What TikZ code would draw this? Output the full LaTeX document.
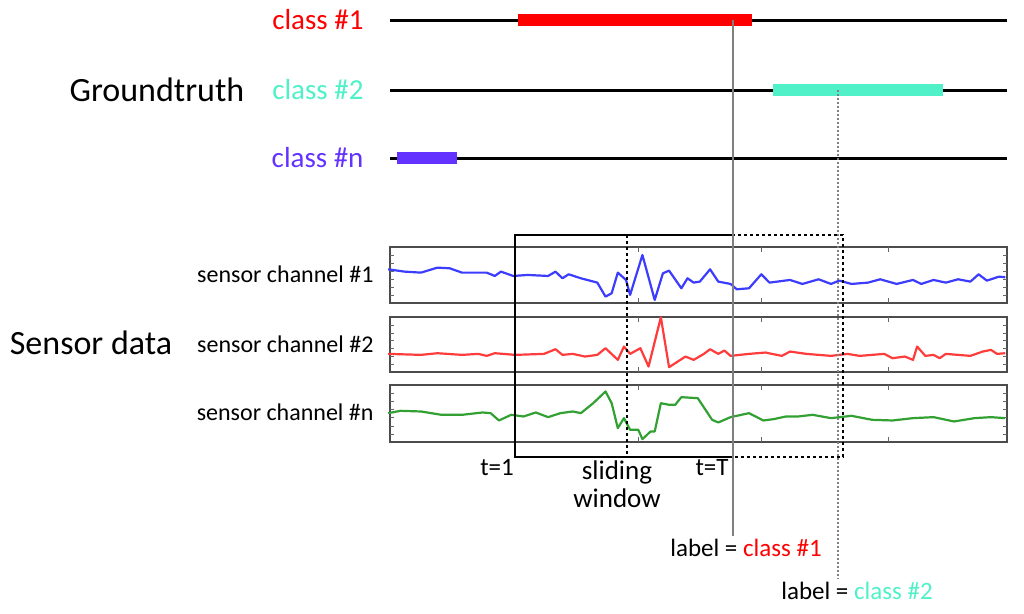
\documentclass[tikz,border=0pt]{standalone}
\usepackage{fontspec}
\setmainfont{Carlito}
\usetikzlibrary{positioning}
\definecolor{cone}{RGB}{255,0,0}
\definecolor{ctwo}{RGB}{80,240,200}
\definecolor{cn}{RGB}{100,50,255}
\definecolor{sblue}{RGB}{60,60,255}
\definecolor{sred}{RGB}{255,60,60}
\definecolor{sgreen}{RGB}{50,160,50}
\tikzset{
  track/.style = {line width=3pt, black},
  bar/.style = {line width=12pt},
  cls/.style = {anchor=east, font=\fontsize{29}{32}\selectfont},
  chan/.style = {anchor=east, font=\fontsize{24}{28}\selectfont},
  big/.style = {font=\fontsize{34}{38}\selectfont},
  small/.style = {font=\fontsize{25}{29}\selectfont},
  panel/.style = {draw=black!70, line width=1.5pt},
  sig/.style = {line width=2.2pt, line join=round}
}
\begin{document}
\begin{tikzpicture}[x=1pt, y=-1pt]
  \useasboundingbox (0,0) rectangle (1024,613);

  % groundtruth tracks
  \draw[track] (390,20) -- (1007,20);
  \draw[track] (390,90) -- (1007,90);
  \draw[track] (390,158) -- (1007,158);
  \draw[bar, cone] (518,20) -- (752,20);
  \draw[bar, ctwo] (773,90) -- (943,90);
  \draw[bar, cn] (397,158) -- (457,158);
  \node[cls, text=cone] (c1) at (367,20) {class \#1};
  \node[cls, text=ctwo] (c2) at (367,90) {class \#2};
  \node[cls, text=cn] (cn) at (367,158) {class \#n};
  \node[big] (gt) at (157,90) {Groundtruth};

  % sensor panels
  \foreach \yt/\yb in {247/303, 317/372, 385/442} {
    \draw[panel] (390,\yt) rectangle (1007,\yb);
    \foreach \x in {515,638,761,888}
      \draw[black!60] (\x,\yt) -- ++(0,5) (\x,\yb) -- ++(0,-5);
    \foreach \k in {1,...,6} {
      \draw[black!60] (390,{\yt+\k*(\yb-\yt)/7}) -- ++(4,0);
      \draw[black!60] (1007,{\yt+\k*(\yb-\yt)/7}) -- ++(-4,0);
    }
  }
  \node[chan] (s1) at (377,274) {sensor channel \#1};
  \node[chan] (s2) at (377,344) {sensor channel \#2};
  \node[chan] (sn) at (377,412) {sensor channel \#n};
  \node[big] (sd) at (91,343) {Sensor data};

  \begin{scope}[shift={(380,230)}, xscale=0.41, yscale=0.333]
    \draw[sig, sblue] (20,118)--(60,125)--(100,128)--(140,113)--(170,115)--(200,128)--(260,128)--(280,138)--(295,125)--(325,138)--(360,135)--(410,138)--(428,125)--(445,145)--(460,133)--(490,145)--(530,158)--(550,200)--(565,190)--(580,128)--(600,150)--(610,195)--(640,75)--(670,210)--(690,130)--(705,122)--(735,175)--(750,145)--(765,158)--(780,155)--(805,118)--(825,155)--(855,162)--(870,178)--(900,175)--(930,133)--(950,158)--(1000,150)--(1030,162)--(1070,148)--(1100,162)--(1120,152)--(1150,162)--(1190,158)--(1220,148)--(1260,162)--(1300,150)--(1320,162)--(1350,150)--(1380,158)--(1410,148)--(1440,155)--(1460,133)--(1480,152)--(1510,140)--(1525,142);
    \draw[sig, sred] (20,372)--(100,375)--(140,370)--(200,375)--(240,372)--(260,378)--(280,370)--(300,372)--(330,375)--(400,372)--(428,358)--(445,375)--(470,372)--(500,380)--(530,375)--(550,355)--(580,390)--(595,350)--(610,372)--(635,355)--(655,410)--(685,262)--(705,412)--(730,392)--(745,380)--(765,390)--(790,372)--(805,358)--(825,372)--(840,362)--(855,378)--(900,372)--(940,368)--(980,378)--(1000,365)--(1040,372)--(1100,378)--(1140,372)--(1170,378)--(1200,375)--(1230,372)--(1250,385)--(1280,380)--(1300,390)--(1310,350)--(1330,378)--(1350,375)--(1365,385)--(1380,372)--(1440,378)--(1470,365)--(1490,360)--(1505,372)--(1525,370);
    \draw[sig, sgreen] (20,550)--(50,543)--(100,545)--(150,555)--(200,555)--(250,548)--(270,550)--(290,572)--(320,555)--(350,560)--(380,548)--(410,562)--(440,550)--(470,545)--(490,550)--(520,520)--(550,485)--(565,520)--(580,595)--(595,565)--(610,600)--(630,600)--(640,628)--(660,605)--(670,605)--(685,520)--(705,525)--(720,525)--(735,502)--(775,505)--(810,570)--(825,578)--(855,562)--(900,550)--(935,572)--(960,568)--(990,560)--(1020,560)--(1055,555)--(1100,565)--(1150,558)--(1200,570)--(1250,572)--(1300,565)--(1350,562)--(1400,575)--(1450,565)--(1490,562)--(1525,565);
  \end{scope}

  % windows
  \draw[line width=1.5pt] (515,235) rectangle (733,457);
  \draw[line width=1.5pt, dashed] (627,235) rectangle (843,457);
  \node[small] (t1) at (497,468) {t=1};
  \node[small] (tT) at (712,468) {t=T};
  \node[small, align=center, font=\fontsize{27}{28}\selectfont] (sw) at (617,484) {sliding\\window};

  % label lines
  \node[small, anchor=north] (l1) at (746,536) {label = \textcolor{cone}{class \#1}};
  \node[small, anchor=north] (l2) at (857,579) {label = \textcolor{ctwo}{class \#2}};
  \coordinate (top1) at (733,20);
  \coordinate (top2) at (838,90);
  \draw[gray, line width=2pt] (top1) -- (top1 |- l1.north);
  \draw[gray, line width=2pt, dotted] (top2) -- (top2 |- l2.north);
\end{tikzpicture}
\end{document}
